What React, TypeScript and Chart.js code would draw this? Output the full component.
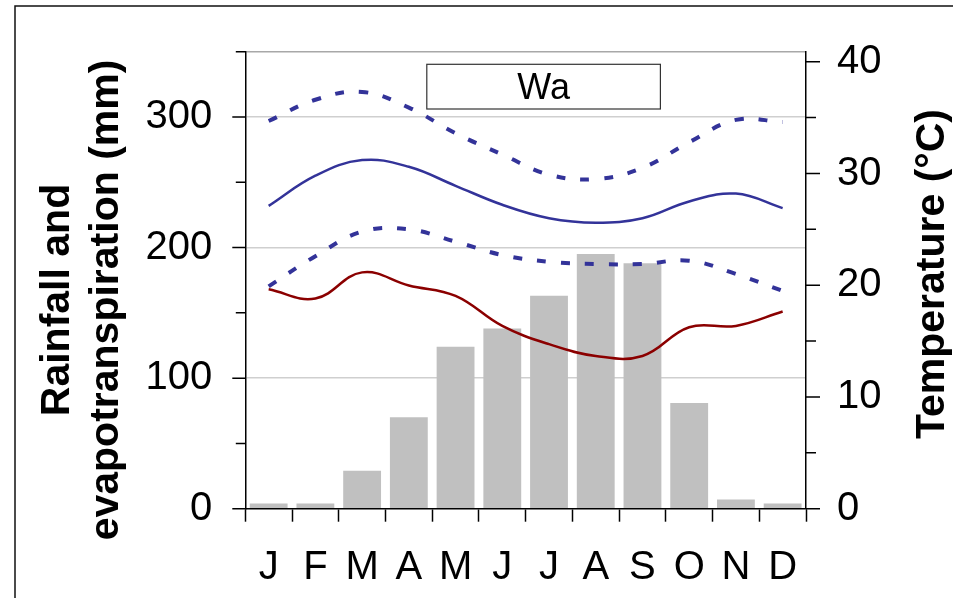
import React, { useEffect, useRef } from 'react';
import { Chart, registerables } from 'chart.js';

Chart.register(...registerables);

// ---- data ----
const months = ['J', 'F', 'M', 'A', 'M', 'J', 'J', 'A', 'S', 'O', 'N', 'D'];
const rainfall = [4, 4, 29, 70, 124, 138, 163, 195, 188, 81, 7, 4];
const evapotranspiration = [168, 161, 181, 171, 163, 140, 126, 117, 117, 139, 140, 151];
const tempMax = [34.7, 36.6, 37.3, 35.9, 33.6, 31.7, 29.9, 29.5, 30.5, 32.8, 34.8, 34.6];
const tempMean = [27.1, 29.8, 31.2, 30.6, 28.9, 27.2, 26.0, 25.6, 26.0, 27.5, 28.2, 26.9];
const tempMin = [19.9, 22.6, 24.8, 25.0, 23.9, 22.7, 22.1, 21.9, 21.9, 22.2, 21.0, 19.5];
const leftTicks = [0, 50, 100, 150, 200, 250, 300, 350];
const leftLabelled = [0, 100, 200, 300];
const rightTicks = [0, 5, 10, 15, 20, 25, 30, 35, 40];
const rightLabelled = [0, 10, 20, 30, 40];
const stationName = 'Wa';
const leftTitle = ['Rainfall and', 'evapotranspiration (mm)'];
const rightTitle = 'Temperature (°C)';

const FONT = "'Liberation Sans', Arial, Helvetica, sans-serif";
const BLUE = '#333399';
const RED = '#8b0000';

const decor = {
  id: 'decor',
  afterDraw(chart: any) {
    const ctx = chart.ctx;
    const ca = chart.chartArea;
    const yL = chart.scales.y;
    const yR = chart.scales.y1;
    ctx.save();

    // outer frame
    ctx.strokeStyle = '#111';
    ctx.lineWidth = 1.5;
    ctx.strokeRect(15, 6, 1200, 1200);

    // y ticks (major/minor)
    ctx.strokeStyle = '#000';
    ctx.lineWidth = 1.5;
    ctx.beginPath();
    leftTicks.forEach((v) => {
      const y = yL.getPixelForValue(v);
      const len = leftLabelled.includes(v) ? 13 : 9.5;
      ctx.moveTo(ca.left - len, y);
      ctx.lineTo(ca.left, y);
    });
    rightTicks.forEach((v) => {
      const y = yR.getPixelForValue(v);
      const len = rightLabelled.includes(v) ? 14 : 10;
      ctx.moveTo(ca.right, y);
      ctx.lineTo(ca.right + len, y);
    });
    ctx.stroke();

    // station box
    const bx = ca.left + 181.5;
    const by = ca.top + 12.6;
    const bw = 233.6;
    const bh = 44.7;
    ctx.fillStyle = '#fff';
    ctx.fillRect(bx, by, bw, bh);
    ctx.strokeStyle = '#333';
    ctx.lineWidth = 1.2;
    ctx.strokeRect(bx, by, bw, bh);
    ctx.fillStyle = '#000';
    ctx.font = `36px ${FONT}`;
    ctx.textAlign = 'center';
    ctx.textBaseline = 'alphabetic';
    ctx.fillText(stationName, bx + bw / 2, by + 35);

    // axis titles (both read bottom-to-top)
    ctx.textAlign = 'center';
    ctx.textBaseline = 'alphabetic';
    ctx.font = `bold 41px ${FONT}`;
    const cyL = 300;
    const baseL = [69, 118];
    leftTitle.forEach((t, i) => {
      ctx.save();
      ctx.translate(baseL[i], cyL);
      ctx.rotate(-Math.PI / 2);
      ctx.fillText(t, 0, 0);
      ctx.restore();
    });
    ctx.font = `bold 41px ${FONT}`;
    ctx.save();
    ctx.translate(944, 274);
    ctx.rotate(-Math.PI / 2);
    ctx.fillText(rightTitle, 0, 0);
    ctx.restore();

    ctx.restore();
  },
};

export default function App() {
  const ref = useRef<HTMLCanvasElement | null>(null);

  useEffect(() => {
    const canvas = ref.current;
    if (!canvas) return;
    const chart = new Chart(canvas, {
      type: 'bar',
      data: {
        labels: months,
        datasets: [
          {
            type: 'line',
            label: 'Max temperature',
            data: tempMax,
            yAxisID: 'y1',
            borderColor: BLUE,
            borderWidth: 4,
            borderDash: [9, 15],
            borderCapStyle: 'butt',
            tension: 0.4,
            pointRadius: 0,
            fill: false,
            order: 1,
          },
          {
            type: 'line',
            label: 'Mean temperature',
            data: tempMean,
            yAxisID: 'y1',
            borderColor: BLUE,
            borderWidth: 2.5,
            tension: 0.4,
            pointRadius: 0,
            fill: false,
            order: 2,
          },
          {
            type: 'line',
            label: 'Min temperature',
            data: tempMin,
            yAxisID: 'y1',
            borderColor: BLUE,
            borderWidth: 4,
            borderDash: [9, 15],
            borderCapStyle: 'butt',
            tension: 0.4,
            pointRadius: 0,
            fill: false,
            order: 3,
          },
          {
            type: 'line',
            label: 'Evapotranspiration',
            data: evapotranspiration,
            yAxisID: 'y',
            borderColor: RED,
            borderWidth: 2.5,
            tension: 0.4,
            pointRadius: 0,
            fill: false,
            order: 4,
          },
          {
            type: 'bar',
            label: 'Rainfall',
            data: rainfall,
            yAxisID: 'y',
            backgroundColor: '#c0c0c0',
            borderWidth: 0,
            barPercentage: 0.81,
            categoryPercentage: 1,
            order: 10,
          },
        ],
      },
      options: {
        animation: false,
        responsive: false,
        devicePixelRatio: 1,
        layout: { padding: { top: 51.7, left: 0, right: 0, bottom: 0 } },
        plugins: {
          legend: { display: false },
          tooltip: { enabled: false },
          title: { display: false },
        },
        scales: {
          x: {
            type: 'category',
            offset: true,
            grid: {
              display: true,
              offset: true,
              drawOnChartArea: false,
              drawTicks: true,
              tickLength: 13,
              tickColor: '#000',
              tickWidth: 1.5,
              color: '#000',
            },
            border: { display: true, color: '#000', width: 1.5 },
            ticks: {
              color: '#000',
              font: { family: FONT, size: 40 },
              padding: 22,
              maxRotation: 0,
              autoSkip: false,
            },
            afterFit(scale: any) {
              scale.height = 89.3;
              scale.paddingLeft = 0;
              scale.paddingRight = 0;
            },
          },
          y: {
            type: 'linear',
            position: 'left',
            min: 0,
            max: 350,
            afterBuildTicks(scale: any) {
              scale.ticks = leftTicks.map((v) => ({ value: v }));
            },
            grid: {
              drawTicks: false,
              color: (c: any) => {
                const v = c.tick ? c.tick.value : 0;
                if (v === 350) return '#a8a8a8';
                if (v === 100 || v === 200 || v === 300) return '#cfcfcf';
                return 'rgba(0,0,0,0)';
              },
              lineWidth: 1.5,
            },
            border: { display: true, color: '#000', width: 1.5 },
            ticks: {
              color: '#000',
              font: { family: FONT, size: 40 },
              padding: 33,
              autoSkip: false,
              callback: (v: any) => (leftLabelled.includes(Number(v)) ? String(v) : ''),
            },
            afterFit(scale: any) {
              scale.width = 245.3;
              scale.paddingTop = 0;
              scale.paddingBottom = 0;
            },
          },
          y1: {
            type: 'linear',
            position: 'right',
            min: 0,
            max: 40.9,
            afterBuildTicks(scale: any) {
              scale.ticks = rightTicks.map((v) => ({ value: v }));
            },
            grid: { drawOnChartArea: false, drawTicks: false },
            border: { display: true, color: '#000', width: 1.5 },
            ticks: {
              color: '#000',
              font: { family: FONT, size: 40 },
              padding: 31,
              autoSkip: false,
              callback: (v: any) => (rightLabelled.includes(Number(v)) ? String(v) : ''),
            },
            afterFit(scale: any) {
              scale.width = 147;
              scale.paddingTop = 0;
              scale.paddingBottom = 0;
            },
          },
        },
      },
      plugins: [decor],
    } as any);
    return () => chart.destroy();
  }, []);

  return (
    <div style={{ position: 'fixed', left: 0, top: 0, width: 953, height: 598, background: '#fff' }}>
      <canvas ref={ref} width={953} height={598} style={{ display: 'block', width: 953, height: 598 }} />
    </div>
  );
}
